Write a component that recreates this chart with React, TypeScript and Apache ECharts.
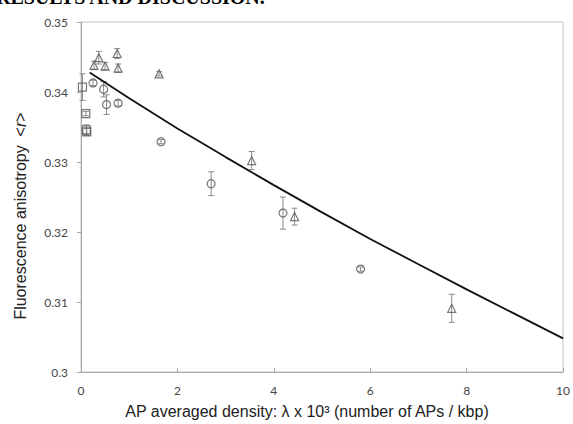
import React, { useEffect, useRef } from "react";
import * as echarts from "echarts";

const squaresX = [0.03, 0.1, 0.11, 0.12];
const squaresY = [0.3407, 0.3369, 0.3346, 0.3343];
const squaresErr = [0.0019, 0.0003, 0.0007, 0.0005];

const trianglesX = [0.27, 0.37, 0.5, 0.75, 0.77, 1.62, 3.54, 4.43, 7.69];
const trianglesY = [0.3438, 0.3449, 0.3437, 0.3455, 0.3434, 0.3426, 0.3302, 0.3222, 0.3091];
const trianglesErr = [0.0006, 0.0009, 0.0005, 0.0007, 0.0006, 0.0003, 0.0013, 0.0012, 0.002];

const circlesX = [0.25, 0.47, 0.53, 0.77, 1.66, 2.7, 4.19, 5.8];
const circlesY = [0.3413, 0.3404, 0.3382, 0.3384, 0.3329, 0.3269, 0.3227, 0.3147];
const circlesErr = [0.0004, 0.0011, 0.0014, 0.0004, 0.0003, 0.0017, 0.0023, 0.0003];

const fitX = [0.18, 1, 2, 3, 4, 5, 6, 7, 8, 9, 10];
const fitY = [0.3428, 0.3391, 0.3348, 0.3307, 0.3267, 0.3228, 0.319, 0.3154, 0.3118, 0.3083, 0.3048];

const xTicks = { min: 0, max: 10, interval: 2 };
const yTicks = { min: 0.3, max: 0.35, interval: 0.01 };

const MARK = "#555555";
const ERR = "#8a8a8a";

function errData(xs: number[], ys: number[], es: number[]) {
  return xs.map((x, i) => [x, ys[i] - es[i], ys[i] + es[i]]);
}

function errSeries(xs: number[], ys: number[], es: number[]) {
  return {
    type: "custom",
    data: errData(xs, ys, es),
    z: 1,
    renderItem: (_params: any, api: any) => {
      const x = api.value(0);
      const lo = api.coord([x, api.value(1)]);
      const hi = api.coord([x, api.value(2)]);
      const cap = 3;
      const style = { stroke: ERR, lineWidth: 1 };
      return {
        type: "group",
        children: [
          { type: "line", shape: { x1: lo[0], y1: lo[1], x2: hi[0], y2: hi[1] }, style },
          { type: "line", shape: { x1: lo[0] - cap, y1: lo[1], x2: lo[0] + cap, y2: lo[1] }, style },
          { type: "line", shape: { x1: hi[0] - cap, y1: hi[1], x2: hi[0] + cap, y2: hi[1] }, style },
        ],
      };
    },
  };
}

function markSeries(xs: number[], ys: number[], symbol: string, size: number) {
  return {
    type: "scatter",
    symbol,
    symbolSize: size,
    z: 3,
    data: xs.map((x, i) => [x, ys[i]]),
    itemStyle: { color: "rgba(0,0,0,0)", borderColor: MARK, borderWidth: 1.2 },
  };
}

export default function App() {
  const ref = useRef<HTMLDivElement>(null);
  useEffect(() => {
    document.body.style.margin = "0";
    const chart = echarts.init(ref.current!, undefined, { renderer: "svg" });
    chart.setOption({
      animation: false,
      backgroundColor: "#ffffff",
      grid: {
        left: 81,
        right: 5.5,
        top: 22,
        bottom: 52,
        show: true,
        borderColor: "#c4c4c4",
        borderWidth: 1,
      },
      xAxis: {
        type: "value",
        min: xTicks.min,
        max: xTicks.max,
        interval: xTicks.interval,
        axisLine: { show: true, lineStyle: { color: "#a8a8a8", width: 1 } },
        axisTick: { show: true, inside: true, length: 4, lineStyle: { color: "#a8a8a8" } },
        splitLine: { show: false },
        axisLabel: { color: "#444", fontSize: 12, fontFamily: "Lato", margin: 12 },
      },
      yAxis: {
        type: "value",
        min: yTicks.min,
        max: yTicks.max,
        interval: yTicks.interval,
        axisLine: { show: true, lineStyle: { color: "#a8a8a8", width: 1 } },
        axisTick: { show: true, inside: false, length: 4, lineStyle: { color: "#a8a8a8" } },
        splitLine: { show: false },
        axisLabel: {
          color: "#444",
          fontSize: 12,
          fontFamily: "Lato",
          margin: 13,
          formatter: (v: number) => String(+v.toFixed(2)),
        },
      },
      graphic: [
        {
          type: "text",
          x: -4,
          y: 7,
          style: {
            text: "RESULTS AND DISCUSSION.",
            font: "bold 20px 'Liberation Serif'",
            fill: "#000",
            textAlign: "left",
            textVerticalAlign: "bottom",
          },
        },
        {
          type: "text",
          x: 20,
          y: 216,
          rotation: Math.PI / 2,
          style: {
            text: "{a|Fluorescence anisotropy  <}{i|r}{a|>}",
            textAlign: "center",
            textVerticalAlign: "middle",
            rich: {
              a: { font: "16px 'Liberation Sans'", fill: "#222" },
              i: { font: "italic 16px 'Liberation Sans'", fill: "#222" },
            },
          },
        },
        {
          type: "text",
          x: 307,
          y: 411,
          style: {
            text: "AP averaged density: λ x 10³ (number of APs / kbp)",
            font: "16px 'Liberation Sans'",
            fill: "#222",
            textAlign: "center",
            textVerticalAlign: "middle",
          },
        },
      ],
      series: [
        errSeries(squaresX, squaresY, squaresErr),
        errSeries(trianglesX, trianglesY, trianglesErr),
        errSeries(circlesX, circlesY, circlesErr),
        {
          type: "line",
          data: fitX.map((x, i) => [x, fitY[i]]),
          symbol: "none",
          z: 2,
          lineStyle: { color: "#111", width: 1.8 },
        },
        markSeries(squaresX, squaresY, "rect", 8),
        markSeries(trianglesX, trianglesY, "triangle", 8),
        markSeries(circlesX, circlesY, "circle", 8),
      ],
    });
    return () => chart.dispose();
  }, []);
  return <div ref={ref} style={{ width: 573, height: 424 }} />;
}
